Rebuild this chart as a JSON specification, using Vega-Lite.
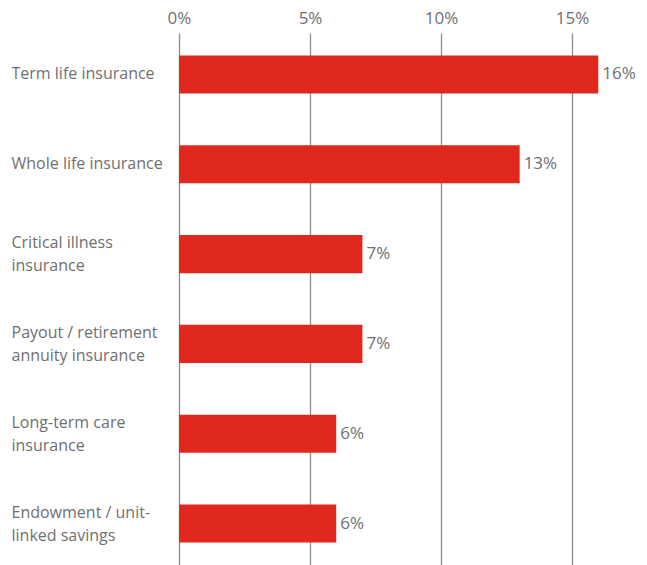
{
  "$schema": "https://vega.github.io/schema/vega-lite/v6.json",
  "autosize": {"type": "none"},
  "padding": {"left": 179, "top": 33, "right": 0, "bottom": 0},
  "width": 468,
  "height": 532,
  "background": "white",
  "data": {
    "values": [
      {"product": "Term life insurance", "value": 16},
      {"product": "Whole life insurance", "value": 13},
      {"product": "Critical illness|insurance", "value": 7},
      {"product": "Payout / retirement|annuity insurance", "value": 7},
      {"product": "Long-term care|insurance", "value": 6},
      {"product": "Endowment / unit-|linked savings", "value": 6}
    ]
  },
  "transform": [{"calculate": "datum.value + '%'", "as": "label"}],
  "config": {
    "view": {"stroke": null},
    "font": "Open Sans",
    "axis": {"labelFont": "Open Sans", "labelColor": "#6f6f6f", "labelFontSize": 16}
  },
  "encoding": {
    "y": {
      "field": "product",
      "type": "nominal",
      "sort": null,
      "scale": {"paddingInner": 0.576, "paddingOuter": 0.25},
      "axis": {
        "title": null,
        "domain": false,
        "ticks": false,
        "tickSize": 0,
        "labelAlign": "left",
        "labelBaseline": "middle",
        "labelPadding": 168,
        "labelLineHeight": 23,
        "labelLimit": 0,
        "labelOffset": {"condition": {"test": "indexof(datum.value, '|') >= 0", "value": -11}, "value": 0},
        "labelExpr": "split(datum.value, '|')"
      }
    },
    "x": {
      "field": "value",
      "type": "quantitative",
      "scale": {"domain": [0, 17.86], "nice": false},
      "axis": {
        "orient": "top",
        "title": null,
        "values": [0, 5, 10, 15],
        "labelExpr": "datum.value + '%'",
        "labelFlush": false,
        "labelFontSize": 17,
        "domain": false,
        "ticks": false,
        "tickSize": 0,
        "labelPadding": 6,
        "grid": true,
        "gridColor": "#8c8c8c",
        "gridWidth": 1.3,
        "gridOpacity": 1
      }
    }
  },
  "layer": [
    {"mark": {"type": "bar", "color": "#e0281e"}},
    {
      "mark": {"type": "text", "align": "left", "baseline": "middle", "dx": 4, "fontSize": 17, "color": "#6f6f6f", "font": "Open Sans"},
      "encoding": {"text": {"field": "label", "type": "nominal"}, "x": {"field": "value", "type": "quantitative"}}
    }
  ]
}
